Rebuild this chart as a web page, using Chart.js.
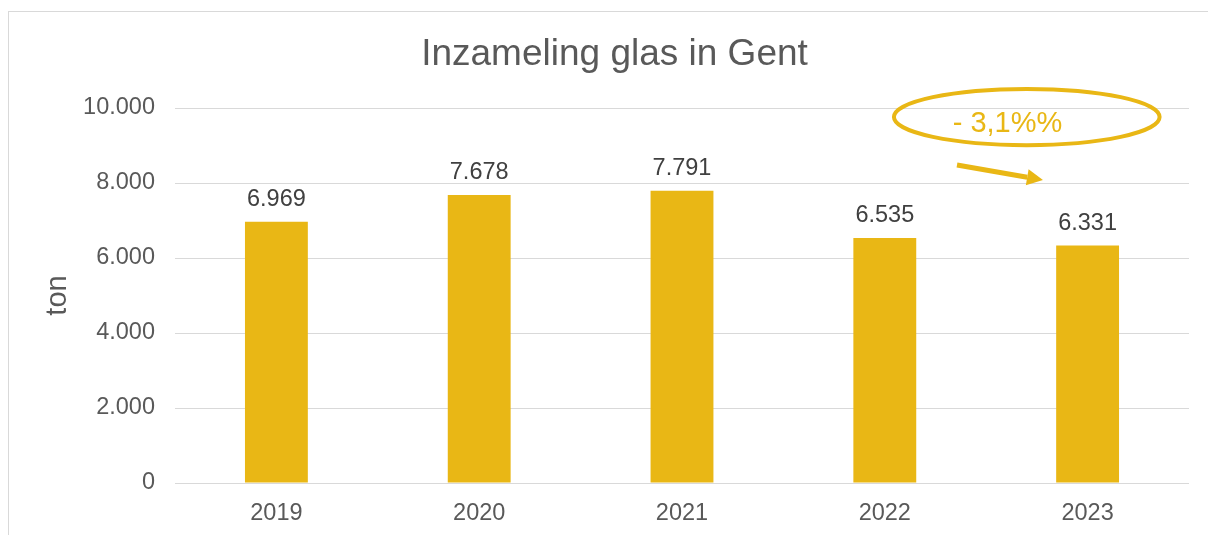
<!DOCTYPE html>
<html>
<head>
<meta charset="utf-8">
<script src="https://cdn.jsdelivr.net/npm/chart.js@4"></script>
<style>
  html, body { margin: 0; padding: 0; background: #fff; overflow: hidden; }
  #wrap { position: absolute; left: 8px; top: 11px; width: 1211px; height: 540px; border: 1px solid #d9d9d9; }
  canvas { display: block; }
</style>
</head>
<body>
<div id="wrap"><canvas id="chart" width="1211" height="540"></canvas></div>
<script>
const years = ["2019", "2020", "2021", "2022", "2023"];
const tonnage = [6969, 7678, 7791, 6535, 6331];
const yTicks = [0, 2000, 4000, 6000, 8000, 10000];
const chartTitle = "Inzameling glas in Gent";

// callout near the last bar, in scale units (category index, ton)
const calloutText = "- 3,1%%";
const calloutEllipse = [3.70, 9760, 0.655, 750]; // cx, cy, rx (categories), ry (ton)
const calloutLabel = [3.605, 9573];
const calloutArrow = [3.356, 8480, 3.78, 8080];

const gold = "#E9B715";
const grey = "#595959";
const font = "'Liberation Sans', Arial, sans-serif";

function fmt(v) {
  return String(v).replace(/\B(?=(\d{3})+(?!\d))/g, ".");
}

// title centred on the whole frame (the plot area is narrower on the right)
const frameTitle = {
  id: "frameTitle",
  afterDraw(chart) {
    const ctx = chart.ctx;
    ctx.save();
    ctx.font = "37px " + font;
    ctx.fillStyle = grey;
    ctx.textAlign = "center";
    ctx.textBaseline = "middle";
    ctx.fillText(chartTitle, chart.width / 2, 43);
    ctx.restore();
  }
};

// value labels above the bars
const barLabels = {
  id: "barLabels",
  afterDatasetsDraw(chart) {
    const ctx = chart.ctx;
    const meta = chart.getDatasetMeta(0);
    ctx.save();
    ctx.font = "23.5px " + font;
    ctx.fillStyle = "#404040";
    ctx.textAlign = "center";
    ctx.textBaseline = "alphabetic";
    meta.data.forEach((bar, i) => {
      ctx.fillText(fmt(tonnage[i]), bar.x, bar.y - 16);
    });
    ctx.restore();
  }
};

// ellipse + arrow callout
const callout = {
  id: "callout",
  afterDraw(chart) {
    const ctx = chart.ctx;
    const xs = chart.scales.x, ys = chart.scales.y;
    const step = xs.getPixelForValue(1) - xs.getPixelForValue(0);
    const cx = xs.getPixelForValue(calloutEllipse[0]);
    const cy = ys.getPixelForValue(calloutEllipse[1]);
    const rx = calloutEllipse[2] * step;
    const ry = ys.getPixelForValue(0) - ys.getPixelForValue(calloutEllipse[3]);
    ctx.save();
    ctx.strokeStyle = gold;
    ctx.lineWidth = 4;
    ctx.beginPath();
    ctx.ellipse(cx, cy, rx, ry, 0, 0, Math.PI * 2);
    ctx.stroke();

    ctx.font = "29px " + font;
    ctx.fillStyle = gold;
    ctx.textAlign = "center";
    ctx.textBaseline = "middle";
    ctx.fillText(calloutText, xs.getPixelForValue(calloutLabel[0]), ys.getPixelForValue(calloutLabel[1]));

    const x1 = xs.getPixelForValue(calloutArrow[0]), y1 = ys.getPixelForValue(calloutArrow[1]);
    const x2 = xs.getPixelForValue(calloutArrow[2]), y2 = ys.getPixelForValue(calloutArrow[3]);
    const ang = Math.atan2(y2 - y1, x2 - x1);
    const head = 16;
    const bx = x2 - head * Math.cos(ang), by = y2 - head * Math.sin(ang);
    ctx.lineWidth = 5;
    ctx.beginPath();
    ctx.moveTo(x1, y1);
    ctx.lineTo(bx, by);
    ctx.stroke();
    ctx.beginPath();
    ctx.moveTo(x2, y2);
    ctx.lineTo(bx + 8 * Math.sin(ang), by - 8 * Math.cos(ang));
    ctx.lineTo(bx - 8 * Math.sin(ang), by + 8 * Math.cos(ang));
    ctx.closePath();
    ctx.fill();
    ctx.restore();
  }
};

new Chart(document.getElementById("chart").getContext("2d"), {
  type: "bar",
  data: {
    labels: years,
    datasets: [{
      label: "ton",
      data: tonnage,
      backgroundColor: gold,
      categoryPercentage: 1,
      barPercentage: 0.31
    }]
  },
  options: {
    responsive: false,
    animation: false,
    layout: { padding: { left: 0, right: 31, top: 96, bottom: 0 } },
    plugins: {
      legend: { display: false },
      tooltip: { enabled: false },
      title: { display: false }
    },
    scales: {
      x: {
        grid: { display: false, drawTicks: false },
        border: { display: false },
        ticks: {
          color: grey,
          padding: 16,
          font: { family: font, size: 23.5 }
        },
        afterFit(scale) { scale.height = 69; }
      },
      y: {
        min: 0,
        max: 10000,
        afterBuildTicks(scale) { scale.ticks = yTicks.map(v => ({ value: v })); },
        grid: { color: "#d9d9d9", lineWidth: 1, drawTicks: false },
        border: { display: false },
        ticks: {
          color: grey,
          padding: 20,
          font: { family: font, size: 23.5 },
          callback: v => fmt(v)
        },
        title: {
          display: true,
          text: "ton",
          color: grey,
          font: { family: font, size: 29 },
          padding: { top: 32, bottom: 0 }
        },
        afterFit(scale) { scale.width = 166; }
      }
    }
  },
  plugins: [barLabels, callout, frameTitle]
});
</script>
</body>
</html>
